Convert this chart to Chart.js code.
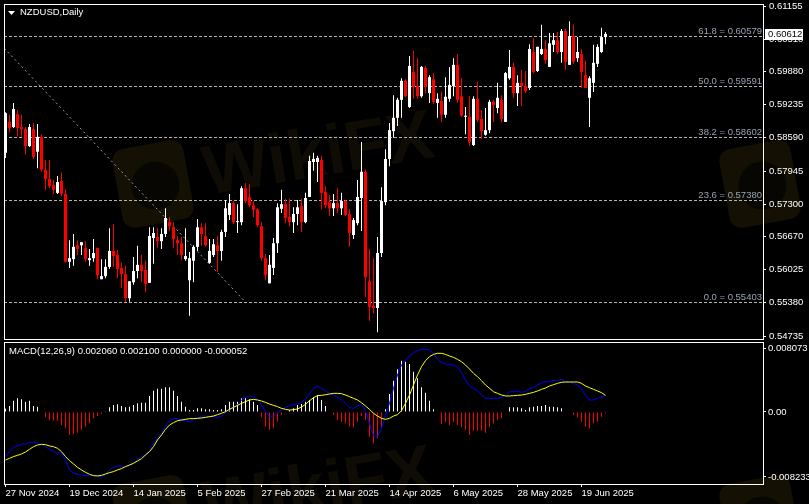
<!DOCTYPE html>
<html>
<head>
<meta charset="utf-8">
<title>NZDUSD Daily</title>
<script src="https://cdn.jsdelivr.net/npm/chart.js@4.4.1/dist/chart.umd.min.js"></script>
<style>
    html, body { margin: 0; padding: 0; background: #000; }
    #wrap { position: relative; width: 809px; height: 504px; background: #000; overflow: hidden; }
    #priceChart { position: absolute; left: 0; top: 0; }
    #macdChart { position: absolute; left: 0; top: 341px; }
</style>
</head>
<body>
<div id="wrap">
    <canvas id="priceChart" width="809" height="341"></canvas>
    <canvas id="macdChart" width="809" height="163"></canvas>
</div>
<script>
// NZDUSD daily candles, 27 Nov 2024 .. 25 Jun 2025 (one entry per bar)
var opens = [
    0.5830, 0.5890, 0.5880, 0.5905, 0.5880, 0.5876, 0.5843, 0.5876, 0.5832, 0.5861,
    0.5797, 0.5779, 0.5767, 0.5752, 0.5775, 0.5750, 0.5618, 0.5623, 0.5650, 0.5650,
    0.5645, 0.5621, 0.5625, 0.5645, 0.5584, 0.5590, 0.5608, 0.5639, 0.5631, 0.5606,
    0.5594, 0.5547, 0.5578, 0.5600, 0.5612, 0.5602, 0.5577, 0.5664, 0.5666, 0.5658,
    0.5672, 0.5695, 0.5685, 0.5660, 0.5654, 0.5623, 0.5582, 0.5620, 0.5647, 0.5685,
    0.5668, 0.5616, 0.5631, 0.5650, 0.5639, 0.5676, 0.5709, 0.5732, 0.5695, 0.5695,
    0.5761, 0.5744, 0.5728, 0.5720, 0.5687, 0.5625, 0.5576, 0.5606, 0.5654, 0.5721,
    0.5730, 0.5705, 0.5695, 0.5711, 0.5726, 0.5695, 0.5744, 0.5812, 0.5812, 0.5816,
    0.5754, 0.5734, 0.5722, 0.5732, 0.5722, 0.5736, 0.5711, 0.5670, 0.5693, 0.5742,
    0.5793, 0.5580, 0.5532, 0.5528, 0.5635, 0.5734, 0.5818, 0.5872, 0.5898, 0.5933,
    0.5970, 0.5919, 0.5987, 0.5960, 0.5940, 0.5995, 0.5946, 0.5973, 0.5927, 0.5931,
    0.5904, 0.5935, 0.5960, 0.6001, 0.5940, 0.5900, 0.5900, 0.5845, 0.5935, 0.5896,
    0.5865, 0.5874, 0.5929, 0.5917, 0.5933, 0.5890, 0.5975, 0.5997, 0.5946, 0.5966,
    0.5960, 0.5956, 0.6026, 0.5989, 0.6022, 0.6032, 0.5997, 0.6040, 0.6049, 0.6026,
    0.6067, 0.6001, 0.6057, 0.6014, 0.6022, 0.5981, 0.5937, 0.5966, 0.6003, 0.6026,
    0.6055
];
var highs = [
    0.5909, 0.5904, 0.5927, 0.5913, 0.5904, 0.5880, 0.5886, 0.5888, 0.5886, 0.5865,
    0.5816, 0.5816, 0.5777, 0.5785, 0.5791, 0.5759, 0.5660, 0.5672, 0.5660, 0.5656,
    0.5658, 0.5643, 0.5662, 0.5645, 0.5623, 0.5623, 0.5683, 0.5691, 0.5641, 0.5616,
    0.5610, 0.5580, 0.5627, 0.5649, 0.5631, 0.5620, 0.5685, 0.5685, 0.5683, 0.5683,
    0.5722, 0.5705, 0.5695, 0.5668, 0.5666, 0.5683, 0.5637, 0.5650, 0.5701, 0.5693,
    0.5693, 0.5662, 0.5662, 0.5668, 0.5680, 0.5738, 0.5750, 0.5736, 0.5730, 0.5765,
    0.5771, 0.5769, 0.5736, 0.5722, 0.5695, 0.5633, 0.5631, 0.5664, 0.5732, 0.5758,
    0.5740, 0.5740, 0.5724, 0.5738, 0.5740, 0.5752, 0.5824, 0.5830, 0.5824, 0.5824,
    0.5765, 0.5748, 0.5750, 0.5761, 0.5752, 0.5738, 0.5720, 0.5703, 0.5777, 0.5851,
    0.5797, 0.5643, 0.5625, 0.5666, 0.5763, 0.5837, 0.5888, 0.5942, 0.5937, 0.5975,
    0.5973, 0.6018, 0.6028, 0.6014, 0.5999, 0.5999, 0.5981, 0.5985, 0.5946, 0.5948,
    0.5977, 0.5997, 0.6014, 0.6022, 0.5975, 0.5919, 0.5940, 0.5940, 0.5968, 0.5913,
    0.5917, 0.5933, 0.5933, 0.5966, 0.5942, 0.5987, 0.6030, 0.6005, 0.5981, 0.5991,
    0.5989, 0.6041, 0.6053, 0.6036, 0.6079, 0.6049, 0.6063, 0.6063, 0.6065, 0.6071,
    0.6071, 0.6086, 0.6079, 0.6055, 0.6032, 0.6009, 0.5979, 0.6040, 0.6041, 0.6073,
    0.6065
];
var lows = [
    0.5820, 0.5870, 0.5878, 0.5861, 0.5861, 0.5826, 0.5841, 0.5818, 0.5800, 0.5793,
    0.5758, 0.5761, 0.5750, 0.5750, 0.5746, 0.5616, 0.5606, 0.5610, 0.5631, 0.5631,
    0.5618, 0.5610, 0.5618, 0.5584, 0.5584, 0.5586, 0.5604, 0.5608, 0.5586, 0.5567,
    0.5540, 0.5540, 0.5573, 0.5586, 0.5578, 0.5559, 0.5577, 0.5614, 0.5645, 0.5643,
    0.5666, 0.5678, 0.5645, 0.5631, 0.5621, 0.5620, 0.5513, 0.5578, 0.5639, 0.5649,
    0.5647, 0.5614, 0.5627, 0.5598, 0.5620, 0.5666, 0.5699, 0.5691, 0.5674, 0.5689,
    0.5732, 0.5724, 0.5705, 0.5685, 0.5620, 0.5582, 0.5576, 0.5592, 0.5635, 0.5713,
    0.5693, 0.5687, 0.5674, 0.5689, 0.5676, 0.5693, 0.5744, 0.5795, 0.5773, 0.5720,
    0.5722, 0.5707, 0.5707, 0.5713, 0.5709, 0.5707, 0.5647, 0.5662, 0.5689, 0.5678,
    0.5549, 0.5503, 0.5518, 0.5481, 0.5627, 0.5728, 0.5804, 0.5859, 0.5882, 0.5898,
    0.5938, 0.5917, 0.5935, 0.5935, 0.5937, 0.5946, 0.5927, 0.5925, 0.5898, 0.5890,
    0.5898, 0.5929, 0.5940, 0.5927, 0.5900, 0.5866, 0.5843, 0.5843, 0.5890, 0.5857,
    0.5863, 0.5868, 0.5890, 0.5907, 0.5890, 0.5890, 0.5972, 0.5937, 0.5921, 0.5921,
    0.5946, 0.5952, 0.5985, 0.5987, 0.6020, 0.6003, 0.5997, 0.6026, 0.6022, 0.6005,
    0.5991, 0.6001, 0.6003, 0.6007, 0.5956, 0.5956, 0.5880, 0.5948, 0.5997, 0.6024,
    0.6041
];
var closes = [
    0.5907, 0.5878, 0.5915, 0.5878, 0.5876, 0.5843, 0.5880, 0.5822, 0.5861, 0.5797,
    0.5779, 0.5765, 0.5758, 0.5773, 0.5750, 0.5618, 0.5625, 0.5647, 0.5643, 0.5656,
    0.5623, 0.5625, 0.5635, 0.5592, 0.5590, 0.5608, 0.5639, 0.5629, 0.5604, 0.5594,
    0.5547, 0.5580, 0.5600, 0.5612, 0.5600, 0.5575, 0.5668, 0.5674, 0.5658, 0.5672,
    0.5703, 0.5687, 0.5662, 0.5654, 0.5631, 0.5629, 0.5625, 0.5647, 0.5685, 0.5672,
    0.5650, 0.5639, 0.5652, 0.5639, 0.5676, 0.5722, 0.5732, 0.5695, 0.5697, 0.5761,
    0.5736, 0.5728, 0.5719, 0.5689, 0.5625, 0.5592, 0.5612, 0.5654, 0.5724, 0.5730,
    0.5703, 0.5695, 0.5711, 0.5724, 0.5695, 0.5742, 0.5814, 0.5818, 0.5820, 0.5752,
    0.5728, 0.5722, 0.5732, 0.5722, 0.5736, 0.5709, 0.5674, 0.5699, 0.5744, 0.5793,
    0.5588, 0.5530, 0.5528, 0.5635, 0.5736, 0.5818, 0.5874, 0.5898, 0.5933, 0.5970,
    0.5940, 0.5999, 0.5958, 0.5940, 0.5997, 0.5958, 0.5977, 0.5929, 0.5935, 0.5904,
    0.5939, 0.5962, 0.6001, 0.5933, 0.5902, 0.5902, 0.5851, 0.5935, 0.5894, 0.5872,
    0.5874, 0.5929, 0.5923, 0.5937, 0.5896, 0.5985, 0.5997, 0.5946, 0.5966, 0.5960,
    0.5950, 0.6032, 0.5987, 0.6036, 0.6032, 0.6010, 0.6043, 0.6049, 0.6026, 0.6067,
    0.6007, 0.6057, 0.6007, 0.6026, 0.5987, 0.5956, 0.5975, 0.6005, 0.6036, 0.6055,
    0.60612
];

// MACD(12,26,9): main line, signal line, histogram
var macdMain = [
    -0.00565, -0.00502, -0.00447, -0.00430, -0.00405, -0.00409, -0.00384, -0.00384, -0.00397, -0.00418,
    -0.00439, -0.00473, -0.00502, -0.00515, -0.00523, -0.00608, -0.00734, -0.00776, -0.00789, -0.00798,
    -0.00806, -0.00810, -0.00798, -0.00810, -0.00819, -0.00798, -0.00734, -0.00701, -0.00684, -0.00684,
    -0.00692, -0.00684, -0.00650, -0.00599, -0.00565, -0.00549, -0.00481, -0.00397, -0.00333, -0.00262,
    -0.00177, -0.00110, -0.00084, -0.00084, -0.00101, -0.00114, -0.00122, -0.00101, -0.00080, -0.00051,
    -0.00051, -0.00059, -0.00059, -0.00068, -0.00051, -0.00008, 0.00025, 0.00059, 0.00093, 0.00152,
    0.00186, 0.00203, 0.00194, 0.00160, 0.00089, 0.00004, -0.00059, -0.00051, -0.00017, 0.00025,
    0.00059, 0.00084, 0.00093, 0.00101, 0.00118, 0.00160, 0.00236, 0.00300, 0.00329, 0.00300,
    0.00266, 0.00236, 0.00215, 0.00186, 0.00152, 0.00110, 0.00059, 0.00046, 0.00076, 0.00097,
    0.00017, -0.00143, -0.00304, -0.00312, -0.00207, -0.00051, 0.00110, 0.00300, 0.00468, 0.00595,
    0.00658, 0.00709, 0.00751, 0.00776, 0.00793, 0.00793, 0.00785, 0.00734, 0.00667, 0.00625,
    0.00608, 0.00603, 0.00595, 0.00565, 0.00498, 0.00405, 0.00329, 0.00300, 0.00270, 0.00215,
    0.00173, 0.00173, 0.00173, 0.00173, 0.00186, 0.00215, 0.00257, 0.00257, 0.00266, 0.00249,
    0.00257, 0.00300, 0.00308, 0.00342, 0.00371, 0.00380, 0.00388, 0.00401, 0.00397, 0.00414,
    0.00388, 0.00376, 0.00363, 0.00342, 0.00287, 0.00215, 0.00152, 0.00152, 0.00173, 0.00194,
    0.00206
];
var macdSignal = [
    -0.00608, -0.00587, -0.00565, -0.00549, -0.00532, -0.00506, -0.00473, -0.00439, -0.00418, -0.00409,
    -0.00414, -0.00430, -0.00439, -0.00460, -0.00502, -0.00565, -0.00616, -0.00658, -0.00701, -0.00734,
    -0.00764, -0.00789, -0.00806, -0.00810, -0.00802, -0.00785, -0.00768, -0.00755, -0.00734, -0.00717,
    -0.00692, -0.00671, -0.00650, -0.00620, -0.00591, -0.00544, -0.00502, -0.00439, -0.00354, -0.00291,
    -0.00219, -0.00165, -0.00135, -0.00110, -0.00101, -0.00093, -0.00084, -0.00084, -0.00080, -0.00076,
    -0.00068, -0.00059, -0.00051, -0.00034, -0.00017, 0.00004, 0.00034, 0.00059, 0.00084, 0.00110,
    0.00131, 0.00152, 0.00160, 0.00152, 0.00139, 0.00122, 0.00101, 0.00084, 0.00068, 0.00046,
    0.00034, 0.00025, 0.00030, 0.00038, 0.00063, 0.00097, 0.00143, 0.00181, 0.00207, 0.00211,
    0.00219, 0.00228, 0.00236, 0.00236, 0.00232, 0.00215, 0.00194, 0.00173, 0.00152, 0.00118,
    0.00076, 0.00034, -0.00017, -0.00051, -0.00080, -0.00093, -0.00080, -0.00051, -0.00034, 0.00017,
    0.00110, 0.00215, 0.00342, 0.00468, 0.00574, 0.00650, 0.00701, 0.00730, 0.00743, 0.00743,
    0.00730, 0.00709, 0.00692, 0.00667, 0.00637, 0.00595, 0.00544, 0.00490, 0.00447, 0.00397,
    0.00342, 0.00300, 0.00257, 0.00236, 0.00215, 0.00203, 0.00203, 0.00207, 0.00211, 0.00215,
    0.00224, 0.00236, 0.00249, 0.00266, 0.00287, 0.00304, 0.00329, 0.00346, 0.00363, 0.00376,
    0.00380, 0.00380, 0.00380, 0.00380, 0.00363, 0.00329, 0.00308, 0.00287, 0.00266, 0.00245,
    0.00210
];
var macdHist = [
    0.00042, 0.00076, 0.00143, 0.00173, 0.00160, 0.00131, 0.00143, 0.00076, 0.00068, -0.00010,
    -0.00068, -0.00101, -0.00110, -0.00110, -0.00165, -0.00207, -0.00291, -0.00279, -0.00262, -0.00228,
    -0.00186, -0.00143, -0.00080, -0.00051, -0.00025, 0.00003, 0.00059, 0.00089, 0.00097, 0.00076,
    0.00059, 0.00068, 0.00089, 0.00110, 0.00118, 0.00118, 0.00203, 0.00270, 0.00295, 0.00295,
    0.00312, 0.00312, 0.00270, 0.00203, 0.00131, 0.00068, 0.00025, 0.00025, 0.00046, 0.00046,
    0.00034, 0.00034, 0.00025, 0.00025, 0.00034, 0.00089, 0.00131, 0.00131, 0.00131, 0.00173,
    0.00173, 0.00160, 0.00131, 0.00089, -0.00068, -0.00186, -0.00228, -0.00207, -0.00122, -0.00038,
    0.00000, 0.00025, 0.00046, 0.00089, 0.00101, 0.00131, 0.00152, 0.00186, 0.00215, 0.00152,
    0.00076, 0.00005, -0.00038, -0.00101, -0.00122, -0.00143, -0.00186, -0.00194, -0.00122, -0.00051,
    -0.00101, -0.00312, -0.00397, -0.00333, -0.00186, 0.00034, 0.00228, 0.00397, 0.00540, 0.00650,
    0.00637, 0.00608, 0.00511, 0.00426, 0.00312, 0.00245, 0.00143, 0.00034, 0.00000, -0.00152,
    -0.00122, -0.00165, -0.00122, -0.00165, -0.00194, -0.00228, -0.00291, -0.00236, -0.00236, -0.00236,
    -0.00262, -0.00194, -0.00143, -0.00101, -0.00080, 0.00000, 0.00059, 0.00059, 0.00059, 0.00046,
    0.00025, 0.00059, 0.00068, 0.00076, 0.00076, 0.00089, 0.00068, 0.00068, 0.00059, 0.00046,
    0.00000, 0.00000, -0.00038, -0.00068, -0.00122, -0.00186, -0.00207, -0.00143, -0.00122, -0.00059,
    -0.00017
];

// axis labels
var dateTickBars = [0, 16, 32, 48, 64, 80, 96, 112, 128, 144];
var dateTickLabels = ['27 Nov 2024', '19 Dec 2024', '14 Jan 2025', '5 Feb 2025', '27 Feb 2025',
                      '21 Mar 2025', '14 Apr 2025', '6 May 2025', '28 May 2025', '19 Jun 2025'];
var priceTicks = [0.61155, 0.60510, 0.59880, 0.59235, 0.58590, 0.57945, 0.57300, 0.56670, 0.56025, 0.55380, 0.54735];
var macdTicks = [0.008073, 0, -0.008233];
var macdTickLabels = ['0.008073', '0.00', '-0.008233'];

// fibonacci retracement
var fibRatios = [61.8, 50.0, 38.2, 23.6, 0.0];
var fibPrices = [0.60579, 0.59591, 0.58602, 0.57380, 0.55403];
var fibTrendBars = [-0.3, 59.9];
var fibTrendPrices = [0.60332, 0.55403];

var chartTitle = 'NZDUSD,Daily';
var macdTitle = 'MACD(12,26,9)';
var macdLegendValues = [0.002060, 0.002100, 0.000000, -0.000052];
var watermarkText = 'WikiFX';

var FONT = '9.5px "Liberation Sans", Arial, sans-serif';
var BULL = '#ffffff';
var BEAR = '#ff0000';

Chart.defaults.font.family = '"Liberation Sans", Arial, sans-serif';
Chart.defaults.font.size = 9.5;
Chart.defaults.color = '#ffffff';

var xMin = -0.375, xMax = 189.375;

// faint broker watermark, drawn in page coordinates (second row lower down)
function drawWatermark(ctx, pageTop) {
    ctx.save();
    ctx.translate(0, -pageTop);
    [0, 335].forEach(function(dy) {
        [[153, 184], [760, 184]].forEach(function(c) {
            ctx.save();
            ctx.translate(c[0], c[1] + dy);
            ctx.rotate(-0.18);
            ctx.fillStyle = '#141003';
            ctx.beginPath();
            ctx.roundRect(-36, -40, 72, 80, 12);
            ctx.fill();
            ctx.fillStyle = '#080602';
            ctx.beginPath();
            ctx.arc(2, 2, 24, 0, Math.PI * 2);
            ctx.fill();
            ctx.restore();
        });
        ctx.save();
        ctx.translate(207, 195 + dy);
        ctx.rotate(-0.166);
        ctx.font = 'bold 70px "Liberation Sans", Arial, sans-serif';
        ctx.fillStyle = '#0f0c06';
        ctx.textBaseline = 'alphabetic';
        ctx.fillText(watermarkText, 0, 0);
        ctx.restore();
    });
    ctx.restore();
}

var watermarkPlugin = {
    id: 'watermark',
    beforeDraw: function(chart, args, opts) {
        drawWatermark(chart.ctx, opts.pageTop || 0);
    }
};

// white frame round the plot area
var framePlugin = {
    id: 'frame',
    afterDraw: function(chart) {
        var a = chart.chartArea, ctx = chart.ctx;
        ctx.save();
        ctx.strokeStyle = '#ffffff';
        ctx.lineWidth = 1;
        ctx.strokeRect(a.left + 0.5, a.top + 0.5, a.right - a.left, a.bottom - a.top);
        ctx.restore();
    }
};

// fibo levels behind the candles
var fibPlugin = {
    id: 'fibLevels',
    beforeDatasetsDraw: function(chart) {
        var y = chart.scales.y, a = chart.chartArea, ctx = chart.ctx;
        ctx.save();
        ctx.strokeStyle = '#b4b4b4';
        ctx.lineWidth = 1;
        ctx.setLineDash([3, 2]);
        ctx.font = FONT;
        ctx.fillStyle = '#98a2b3';
        ctx.textAlign = 'right';
        ctx.textBaseline = 'alphabetic';
        fibPrices.forEach(function(p, i) {
            var py = Math.round(y.getPixelForValue(p)) + 0.5;
            ctx.beginPath();
            ctx.moveTo(a.left, py);
            ctx.lineTo(a.right, py);
            ctx.stroke();
            ctx.fillText(fibRatios[i].toFixed(1) + ' = ' + p.toFixed(5), a.right - 1, py - 2.5);
        });
        ctx.restore();
    }
};

// symbol caption and last price box
var captionPlugin = {
    id: 'caption',
    afterDraw: function(chart) {
        var ctx = chart.ctx, a = chart.chartArea;
        ctx.save();
        ctx.fillStyle = '#ffffff';
        ctx.beginPath();
        ctx.moveTo(a.left + 4, 11);
        ctx.lineTo(a.left + 11, 11);
        ctx.lineTo(a.left + 7.5, 15);
        ctx.closePath();
        ctx.fill();
        ctx.font = FONT;
        ctx.textAlign = 'left';
        ctx.textBaseline = 'middle';
        ctx.fillText(chartTitle, a.left + 16, 12.5);

        var last = closes[closes.length - 1];
        var py = Math.round(chart.scales.y.getPixelForValue(last));
        ctx.fillStyle = '#ffffff';
        ctx.fillRect(a.right + 2, py - 5, 38, 11);
        ctx.fillStyle = '#000000';
        ctx.fillText(last.toFixed(5), a.right + 5, py + 0.5);
        ctx.restore();
    }
};

var macdCaptionPlugin = {
    id: 'macdCaption',
    afterDraw: function(chart) {
        var ctx = chart.ctx, a = chart.chartArea;
        var txt = macdTitle + ' ' + macdLegendValues.map(function(v) { return v.toFixed(6); }).join(' ');
        ctx.save();
        ctx.font = FONT;
        ctx.fillStyle = '#ffffff';
        ctx.textAlign = 'left';
        ctx.textBaseline = 'middle';
        ctx.fillText(txt, a.left + 5, a.top + 9);
        ctx.restore();
    }
};

function candleColors() {
    return closes.map(function(c, i) { return c >= opens[i] ? BULL : BEAR; });
}

function renderPriceChart() {
    var ctx = document.getElementById('priceChart').getContext('2d');
    var colors = candleColors();
    var wicks = highs.map(function(h, i) { return { x: i, y: [lows[i], h] }; });
    var bodies = opens.map(function(o, i) { return { x: i, y: [o, closes[i]] }; });
    return new Chart(ctx, {
        type: 'bar',
        data: {
            datasets: [{
                label: 'body',
                data: bodies,
                backgroundColor: colors,
                barThickness: 3,
                minBarLength: 1,
                grouped: false,
                inflateAmount: 0,
                borderWidth: 0,
                order: 1
            }, {
                label: 'wick',
                data: wicks,
                backgroundColor: colors,
                barThickness: 1,
                grouped: false,
                inflateAmount: 0,
                borderWidth: 0,
                order: 2
            }, {
                type: 'line',
                label: 'fibo trend',
                data: fibTrendBars.map(function(b, i) { return { x: b, y: fibTrendPrices[i] }; }),
                borderColor: '#9a9a9a',
                borderWidth: 1,
                borderDash: [2, 3],
                pointRadius: 0,
                order: 3
            }]
        },
        options: {
            responsive: false,
            animation: false,
            devicePixelRatio: 1,
            layout: { padding: { left: 4, top: 4, right: 0, bottom: 2 } },
            plugins: {
                legend: { display: false },
                tooltip: { enabled: false },
                watermark: { pageTop: 0 }
            },
            scales: {
                x: { type: 'linear', display: false, min: xMin, max: xMax, offset: false },
                y: {
                    position: 'right',
                    min: 0.54677,
                    max: 0.61194,
                    afterFit: function(s) { s.width = 46; s.paddingTop = 0; s.paddingBottom = 0; },
                    afterBuildTicks: function(s) { s.ticks = priceTicks.map(function(v) { return { value: v }; }); },
                    ticks: {
                        color: '#ffffff',
                        padding: 3,
                        autoSkip: false,
                        callback: function(v) { return v.toFixed(5); }
                    },
                    grid: { drawOnChartArea: false, drawTicks: true, tickLength: 3, color: '#ffffff' },
                    border: { display: false }
                }
            }
        },
        plugins: [watermarkPlugin, fibPlugin, framePlugin, captionPlugin]
    });
}

function renderMacdChart() {
    var ctx = document.getElementById('macdChart').getContext('2d');
    return new Chart(ctx, {
        type: 'bar',
        data: {
            datasets: [{
                type: 'line',
                label: 'MACD',
                data: macdMain.map(function(v, i) { return { x: i, y: v }; }),
                borderColor: '#0000ff',
                borderWidth: 1,
                pointRadius: 0,
                tension: 0,
                order: 1
            }, {
                type: 'line',
                label: 'Signal',
                data: macdSignal.map(function(v, i) { return { x: i, y: v }; }),
                borderColor: '#ffff00',
                borderWidth: 1,
                pointRadius: 0,
                tension: 0,
                order: 0
            }, {
                label: 'Histogram',
                data: macdHist.map(function(v, i) { return { x: i, y: v }; }),
                backgroundColor: macdHist.map(function(v) { return v >= 0 ? BULL : BEAR; }),
                barThickness: 1,
                grouped: false,
                inflateAmount: 0,
                borderWidth: 0,
                order: 2
            }]
        },
        options: {
            responsive: false,
            animation: false,
            devicePixelRatio: 1,
            layout: { padding: { left: 4, top: 1, right: 0, bottom: 0 } },
            plugins: {
                legend: { display: false },
                tooltip: { enabled: false },
                watermark: { pageTop: 341 }
            },
            scales: {
                x: {
                    type: 'linear',
                    min: xMin,
                    max: xMax,
                    offset: false,
                    afterFit: function(s) { s.height = 20; s.paddingLeft = 0; s.paddingRight = 0; },
                    afterBuildTicks: function(s) { s.ticks = dateTickBars.map(function(v) { return { value: v }; }); },
                    ticks: {
                        color: '#ffffff',
                        align: 'start',
                        padding: 1,
                        maxRotation: 0,
                        autoSkip: false,
                        callback: function(v, i) { return dateTickLabels[i]; }
                    },
                    grid: { drawOnChartArea: false, drawTicks: true, tickLength: 3, color: '#ffffff', offset: false },
                    border: { display: false }
                },
                y: {
                    position: 'right',
                    min: -0.00912,
                    max: 0.008866,
                    afterFit: function(s) { s.width = 46; s.paddingTop = 0; s.paddingBottom = 0; },
                    afterBuildTicks: function(s) { s.ticks = macdTicks.map(function(v) { return { value: v }; }); },
                    ticks: {
                        color: '#ffffff',
                        padding: 2,
                        autoSkip: false,
                        callback: function(v, i) { return macdTickLabels[i]; }
                    },
                    grid: { drawOnChartArea: false, drawTicks: true, tickLength: 3, color: '#ffffff' },
                    border: { display: false }
                }
            }
        },
        plugins: [watermarkPlugin, framePlugin, macdCaptionPlugin]
    });
}

renderPriceChart();
renderMacdChart();
</script>
</body>
</html>
